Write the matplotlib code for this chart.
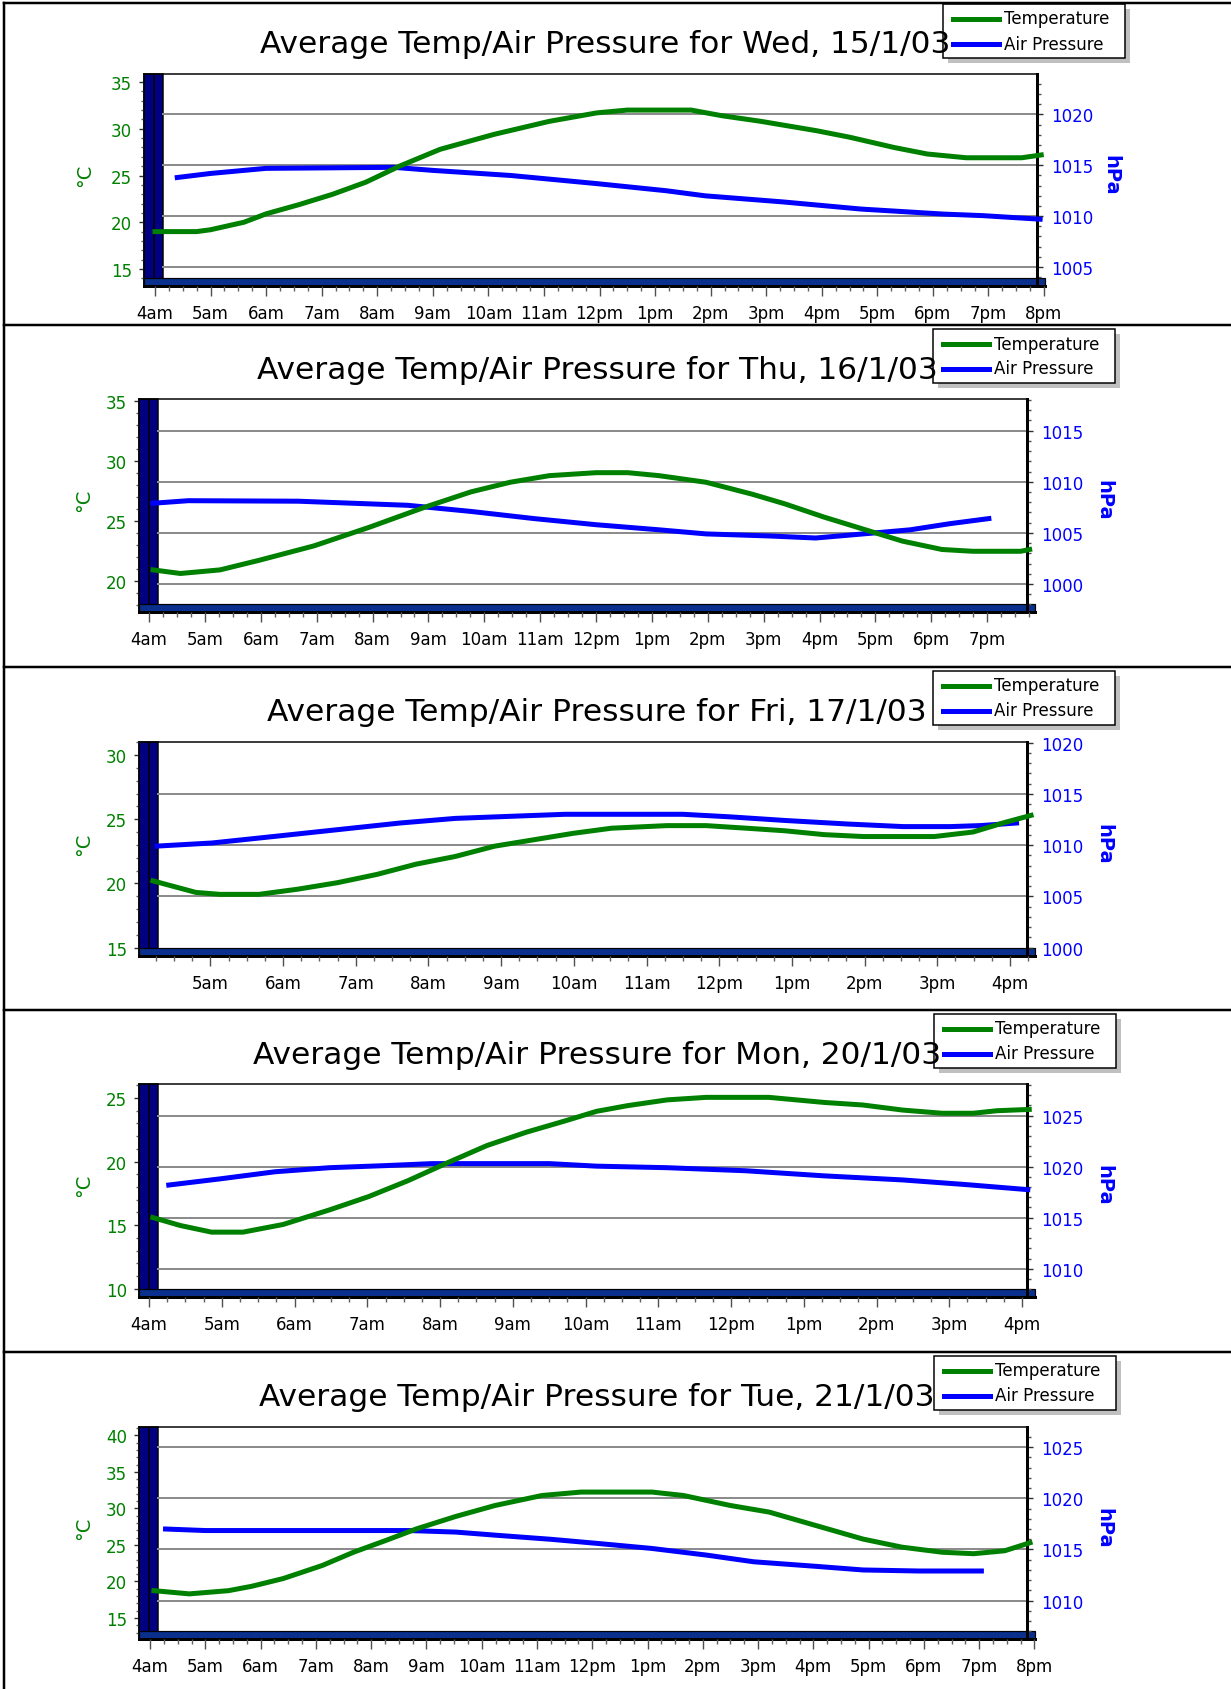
import matplotlib
matplotlib.use("Agg")
from matplotlib import pyplot as plt
from matplotlib.patches import Rectangle
from matplotlib.lines import Line2D
from matplotlib.transforms import Affine2D
from matplotlib.ticker import MultipleLocator

W, H = 1231, 1690
GREEN = '#008000'
BLUE = '#0000ff'
NAVY = '#000080'
FLOOR = '#0a2f8c'

# ---- data (hours of day, 24h clock) ----
wed_temp_hours = [4.0, 4.75, 5.0, 5.6, 6.0, 6.6, 7.2, 7.8, 8.4, 9.13, 10.1, 11.1, 11.95, 12.5,
                  13.65, 14.2, 14.9, 15.9, 16.5, 17.3, 17.9, 18.6, 19.6, 19.95]
wed_temp = [19.0, 19.0, 19.2, 20.0, 20.9, 21.9, 23.0, 24.3, 26.0, 27.8, 29.4, 30.8, 31.7, 32.0,
            32.0, 31.4, 30.8, 29.8, 29.1, 28.0, 27.3, 26.9, 26.9, 27.2]
wed_pres_hours = [4.4, 5.0, 6.0, 8.3, 9.0, 10.4, 11.95, 13.2, 13.9, 15.3, 16.7, 18.2, 18.9, 19.93]
wed_pres = [1013.8, 1014.2, 1014.7, 1014.8, 1014.5, 1014.0, 1013.2, 1012.5, 1012.0, 1011.4,
            1010.7, 1010.2, 1010.05, 1009.7]

thu_temp_hours = [4.07, 4.56, 5.27, 5.97, 6.95, 7.94, 8.92, 9.76, 10.46, 11.16, 12.0, 12.57,
                  13.13, 13.97, 14.8, 15.38, 16.08, 16.78, 17.48, 18.19, 18.74, 19.6, 19.76]
thu_temp = [20.9, 20.6, 20.9, 21.7, 22.9, 24.45, 26.1, 27.4, 28.2, 28.75, 29.0, 29.0,
            28.75, 28.2, 27.2, 26.4, 25.3, 24.3, 23.3, 22.6, 22.45, 22.45, 22.6]
thu_pres_hours = [4.07, 4.7, 6.67, 7.65, 8.63, 9.76, 10.89, 12.0, 13.13, 13.97, 15.1, 15.93,
                  16.78, 17.62, 18.33, 19.03]
thu_pres = [1007.9, 1008.15, 1008.1, 1007.9, 1007.7, 1007.1, 1006.4, 1005.8, 1005.3, 1004.9,
            1004.7, 1004.5, 1004.9, 1005.3, 1005.9, 1006.4]

fri_temp_hours = [4.21, 4.8, 5.13, 5.67, 6.2, 6.75, 7.29, 7.83, 8.37, 8.91, 9.45, 9.99, 10.52,
                  11.28, 11.82, 12.37, 12.9, 13.44, 13.98, 14.96, 15.49, 15.93, 16.29]
fri_temp = [20.2, 19.3, 19.15, 19.15, 19.55, 20.06, 20.7, 21.5, 22.1, 22.9, 23.4, 23.9, 24.3,
            24.5, 24.5, 24.3, 24.1, 23.8, 23.65, 23.65, 24.0, 24.75, 25.3]
fri_pres_hours = [4.27, 5.02, 5.89, 6.75, 7.61, 8.37, 9.12, 9.88, 10.74, 11.5, 12.15, 12.9,
                  13.77, 14.53, 15.18, 15.6, 16.09]
fri_pres = [1009.9, 1010.2, 1010.85, 1011.5, 1012.15, 1012.6, 1012.8, 1013.0, 1013.0, 1013.0,
            1012.75, 1012.4, 1012.05, 1011.8, 1011.8, 1011.9, 1012.15]

mon_temp_hours = [4.05, 4.43, 4.86, 5.29, 5.84, 6.48, 7.02, 7.56, 8.1, 8.64, 9.18, 9.72, 10.15,
                  10.58, 11.12, 11.66, 12.52, 13.28, 13.81, 14.36, 14.9, 15.33, 15.66, 16.1]
mon_temp = [15.6, 14.97, 14.45, 14.45, 15.05, 16.2, 17.25, 18.5, 19.9, 21.25, 22.3, 23.2, 23.95,
            24.4, 24.85, 25.05, 25.05, 24.65, 24.45, 24.05, 23.8, 23.8, 24.0, 24.1]
mon_pres_hours = [4.27, 4.97, 5.73, 6.48, 7.24, 7.89, 9.5, 10.15, 11.12, 12.2, 13.28, 14.36,
                  15.22, 16.08]
mon_pres = [1018.2, 1018.8, 1019.5, 1019.9, 1020.1, 1020.3, 1020.3, 1020.05, 1019.9, 1019.6,
            1019.1, 1018.7, 1018.25, 1017.75]

tue_temp_hours = [4.07, 4.71, 5.42, 5.84, 6.41, 7.12, 7.68, 8.26, 8.82, 9.53, 10.24, 11.09,
                  11.8, 13.08, 13.65, 14.5, 15.2, 16.05, 16.9, 17.6, 18.33, 18.9, 19.46, 19.92]
tue_temp = [18.74, 18.3, 18.74, 19.34, 20.4, 22.2, 24.0, 25.6, 27.2, 28.9, 30.4, 31.77,
            32.24, 32.24, 31.77, 30.4, 29.5, 27.65, 25.8, 24.7, 24.0, 23.8, 24.2, 25.3]
tue_pres_hours = [4.28, 5.0, 8.68, 9.53, 10.24, 11.24, 12.08, 13.08, 14.07, 14.92, 16.06, 16.9,
                  17.9, 19.04]
tue_pres = [1017.0, 1016.85, 1016.85, 1016.7, 1016.4, 1016.0, 1015.6, 1015.1, 1014.45, 1013.8,
            1013.35, 1013.0, 1012.9, 1012.9]

titles = ["Average Temp/Air Pressure for Wed, 15/1/03",
          "Average Temp/Air Pressure for Thu, 16/1/03",
          "Average Temp/Air Pressure for Fri, 17/1/03",
          "Average Temp/Air Pressure for Mon, 20/1/03",
          "Average Temp/Air Pressure for Tue, 21/1/03"]

wed_tick_hours = list(range(4, 21))
wed_tick_labels = ['4am', '5am', '6am', '7am', '8am', '9am', '10am', '11am', '12pm', '1pm',
                   '2pm', '3pm', '4pm', '5pm', '6pm', '7pm', '8pm']
thu_tick_hours = list(range(4, 20))
thu_tick_labels = wed_tick_labels[:16]
fri_tick_hours = list(range(5, 17))
fri_tick_labels = wed_tick_labels[1:13]
mon_tick_hours = list(range(4, 17))
mon_tick_labels = wed_tick_labels[:13]
tue_tick_hours = list(range(4, 21))
tue_tick_labels = wed_tick_labels

legend_labels = ["Temperature", "Air Pressure"]

# ---- layout of each panel, in pixels from the top-left ----
panels = [
    dict(left=144, right=1045, frame=1037, top=75, bottom=287, xlim=(3.802, 20.018),
         tlim=(13.18, 35.86), plim=(1003.13, 1023.98), title_x=605, title_y=53,
         legend=(943, 5), degc_x=85, hpa_x=1111),
    dict(left=139, right=1035, frame=1027, top=400, bottom=613, xlim=(3.819, 19.856),
         tlim=(17.39, 35.14), plim=(997.26, 1018.10), title_x=597, title_y=379,
         legend=(933, 330), degc_x=84, hpa_x=1104),
    dict(left=139, right=1035, frame=1027, top=743, bottom=957, xlim=(4.018, 16.344),
         tlim=(14.35, 31.01), plim=(999.18, 1020.05), title_x=597, title_y=721,
         legend=(933, 672), degc_x=84, hpa_x=1104),
    dict(left=139, right=1035, frame=1027, top=1085, bottom=1298, xlim=(3.861, 16.179),
         tlim=(9.35, 26.10), plim=(1007.23, 1028.10), title_x=597, title_y=1064,
         legend=(934, 1015), degc_x=84, hpa_x=1104),
    dict(left=139, right=1035, frame=1027, top=1428, bottom=1640, xlim=(3.80, 20.01),
         tlim=(12.12, 41.15), plim=(1006.26, 1026.96), title_x=597, title_y=1406,
         legend=(934, 1357), degc_x=84, hpa_x=1104),
]
separators = [4, 326, 668, 1011, 1353]

series = [
    (wed_temp_hours, wed_temp, wed_pres_hours, wed_pres, wed_tick_hours, wed_tick_labels),
    (thu_temp_hours, thu_temp, thu_pres_hours, thu_pres, thu_tick_hours, thu_tick_labels),
    (fri_temp_hours, fri_temp, fri_pres_hours, fri_pres, fri_tick_hours, fri_tick_labels),
    (mon_temp_hours, mon_temp, mon_pres_hours, mon_pres, mon_tick_hours, mon_tick_labels),
    (tue_temp_hours, tue_temp, tue_pres_hours, tue_pres, tue_tick_hours, tue_tick_labels),
]

PX = 0.72  # points per pixel at dpi 100

fig = plt.figure(figsize=(W / 100, H / 100), dpi=100)
fig.patch.set_facecolor('white')
px = Affine2D().scale(1 / W, -1 / H).translate(0, 1) + fig.transFigure


def draw_legend(x0, y0):
    w, h = 182, 54
    fig.add_artist(Rectangle((x0 + 5, y0 + 5), w, h, transform=px, fc='#c0c0c0', ec='none', zorder=5))
    fig.add_artist(Rectangle((x0, y0), w, h, transform=px, fc='white', ec='black', lw=1.5 * PX, zorder=6))
    for i, (lab, col) in enumerate(zip(legend_labels, [GREEN, BLUE])):
        yy = y0 + 14.5 + 25 * i
        fig.add_artist(Line2D([x0 + 10, x0 + 56], [yy, yy], transform=px, color=col,
                              lw=5 * PX, zorder=7))
        fig.text(x0 + 61, yy, lab, transform=px, fontsize=12, va='center', ha='left', zorder=8)


def draw_panel(g, data, title):
    temp_h, temp, pres_h, pres, tick_hours, tick_labels = data
    l, r, t, b = g['left'], g['right'], g['top'], g['bottom']
    ax = fig.add_axes([l / W, 1 - b / H, (r - l) / W, (b - t) / H])
    ax2 = ax.twinx()
    ax.set_zorder(ax2.get_zorder() + 1)
    ax.patch.set_visible(False)
    ax2.patch.set_visible(True)
    ax2.patch.set_facecolor('white')

    wall = 19 / (r - l)
    floor = 8 / (b - t)
    f = (g['frame'] - l) / (r - l)

    # 3D wall and floor
    ax2.add_patch(Rectangle((0, 0), wall, 1, transform=ax2.transAxes, fc=NAVY, ec='black',
                            lw=1.5 * PX, zorder=1, clip_on=False))
    ax2.add_line(Line2D([wall * 0.55, wall * 0.55], [floor, 1], transform=ax2.transAxes,
                        color='black', lw=1.5 * PX, zorder=1.1))
    ax2.add_patch(Rectangle((0, 0), 1, floor, transform=ax2.transAxes, fc=FLOOR, ec='black',
                            lw=1.2 * PX, zorder=1.2, clip_on=False))
    ax2.add_line(Line2D([0, 1], [0, 0], transform=ax2.transAxes, color='black', lw=3 * PX,
                        zorder=1.3, clip_on=False))
    ax2.add_line(Line2D([0, f], [1, 1], transform=ax2.transAxes, color='black', lw=1.5 * PX,
                        zorder=1.3, clip_on=False))

    # pressure axis (right) with grid
    ax2.set_ylim(*g['plim'])
    ax2.yaxis.set_major_locator(MultipleLocator(5))
    ax2.yaxis.set_minor_locator(MultipleLocator(1))
    p0, p1 = g['plim']
    v = 5 * int(p0 // 5)
    while v <= p1:
        frac = (v - p0) / (p1 - p0)
        if floor + 0.01 < frac < 0.99:
            ax2.axhline(v, xmin=wall, xmax=f, color='#8c8c8c', lw=2 * PX, zorder=1.05)
        v += 5
    ax2.plot(pres_h, pres, color=BLUE, lw=5 * PX, zorder=3, clip_on=False)

    for s in ['left', 'top', 'bottom']:
        ax2.spines[s].set_visible(False)
    ax2.spines['right'].set_position(('axes', f))
    ax2.spines['right'].set_linewidth(3 * PX)
    ax2.spines['right'].set_color('black')
    ax2.tick_params(axis='y', which='major', length=4 * PX * 1.4, width=1, color='#303030',
                    labelcolor=BLUE, labelsize=12, pad=6 * PX * 1.4)
    ax2.tick_params(axis='y', which='minor', length=3 * PX * 1.4, width=1, color='#505050')

    # temperature axis (left)
    ax.plot(temp_h, temp, color=GREEN, lw=5 * PX, zorder=3, clip_on=False)
    ax.set_xlim(*g['xlim'])
    ax.set_ylim(*g['tlim'])
    ax.yaxis.set_major_locator(MultipleLocator(5))
    ax.yaxis.set_minor_locator(MultipleLocator(1))
    ax.set_xticks(tick_hours, tick_labels)
    ax.xaxis.set_minor_locator(MultipleLocator(0.25))
    for s in ['right', 'top', 'bottom']:
        ax.spines[s].set_visible(False)
    ax.spines['left'].set_color('black')
    ax.spines['left'].set_linewidth(1.5 * PX)
    ax.tick_params(axis='y', which='major', length=5 * PX, width=1, color='#303030',
                   labelcolor=GREEN, labelsize=12, pad=7 * PX)
    ax.tick_params(axis='y', which='minor', length=3 * PX, width=1, color='#606060')
    ax.tick_params(axis='x', which='major', length=10 * PX, width=1, color='#505050',
                   labelsize=12, pad=8 * PX)
    ax.tick_params(axis='x', which='minor', length=5 * PX, width=1, color='#606060')

    mid = (t + b) / 2 - 6
    fig.text(g['degc_x'], mid, '°C', transform=px, rotation=90, color=GREEN, fontsize=14,
             ha='center', va='center')
    fig.text(g['hpa_x'], mid, 'hPa', transform=px, rotation=270, color=BLUE, fontsize=14,
             fontweight='bold', ha='center', va='center')
    # title sits over the legend box but under its sample lines, as in the original
    fig.text(g['title_x'], g['title_y'], title, transform=px, fontsize=22.5, ha='center',
             va='baseline', color='black', zorder=6.5)
    draw_legend(*g['legend'])


for g, data, title in zip(panels, series, titles):
    draw_panel(g, data, title)

# panel borders
for y in separators:
    fig.add_artist(Line2D([4, W], [y, y], transform=px, color='black', lw=2.5 * PX, zorder=10))
fig.add_artist(Line2D([4, 4], [4, H], transform=px, color='black', lw=2.5 * PX, zorder=10))

fig.savefig("out.png", dpi=100)
